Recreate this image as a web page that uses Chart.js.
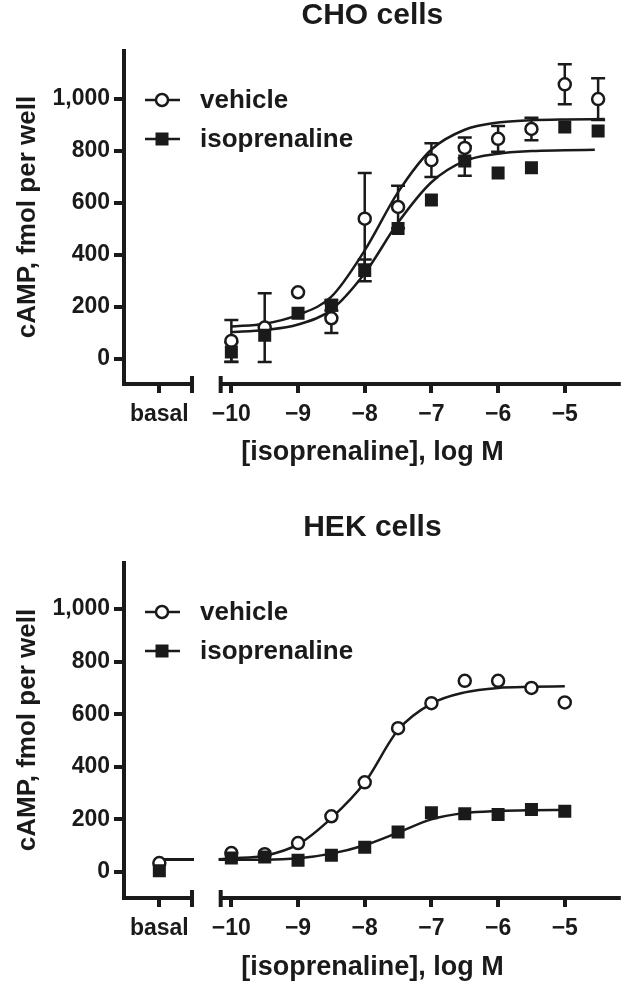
<!DOCTYPE html>
<html>
<head>
<meta charset="utf-8">
<script src="https://cdn.jsdelivr.net/npm/chart.js@4.4.0/dist/chart.umd.min.js"></script>
<style>
  html, body { margin: 0; padding: 0; background: #fff; overflow: hidden; }
  canvas { display: block; }
</style>
</head>
<body>
<canvas id="choChart" width="630" height="490"></canvas>
<canvas id="hekChart" width="630" height="500"></canvas>
<script>
// shared axis values
const basalPos = -11.08;
const axisBreak = [-10.56, -10.19];
const xTicks = [basalPos, -10, -9, -8, -7, -6, -5];
const yTicks = [0, 200, 400, 600, 800, 1000];
const logDose = [-10, -9.5, -9, -8.5, -8, -7.5, -7, -6.5, -6, -5.5, -5, -4.5];

// CHO cells
const choVehicle = [70, 121, 257, 157, 540, 585, 765, 812, 847, 885, 1057, 1000];
const choVehicleErr = [80, 132, 0, 57, 176, 82, 65, 40, 50, 43, 77, 80];
const choIso = [27, 92, 176, 207, 341, 502, 612, 762, 716, 736, 893, 877];
const choIsoErr = [38, 0, 0, 20, 42, 0, 0, 57, 0, 0, 0, 0];
const choVehicleFitX = [-10, -9.5, -9, -8.5, -8, -7.5, -7, -6.5, -6, -5.5, -5, -4.4];
const choVehicleFit = [125, 136, 170, 240, 418, 642, 806, 882, 910, 919, 922, 923];
const choIsoFitX = [-10, -9.5, -9, -8.5, -8, -7.5, -7, -6.5, -6, -5.5, -5, -4.55];
const choIsoFit = [104, 112, 133, 190, 330, 525, 680, 762, 790, 800, 803, 805];

// HEK cells
const hekDose = [basalPos, -10, -9.5, -9, -8.5, -8, -7.5, -7, -6.5, -6, -5.5, -5];
const hekVehicle = [34, 72, 68, 110, 212, 341, 547, 642, 727, 727, 700, 645];
const hekIso = [5, 53, 57, 45, 64, 94, 152, 225, 222, 219, 238, 231];
const hekFitX = [basalPos, -10.56, -10.4, -10.19, -10, -9.5, -9, -8.5, -8, -7.5, -7, -6.5, -6, -5.5, -5];
const hekVehicleFit = [49, 49, null, 49, 52, 62, 105, 205, 340, 540, 640, 683, 700, 704, 706];
const hekIsoFit = [47, 47, null, 47, 47, 47, 52, 70, 102, 150, 200, 224, 232, 235, 236];

const ink = '#1a1a1a';
Chart.defaults.font.family = '"Liberation Sans", Arial, Helvetica, sans-serif';
Chart.defaults.color = ink;

const pairs = (xs, ys) => xs.map((x, i) => ({ x: x, y: ys[i] }));
const fmtLog = v => v === basalPos ? 'basal' : String(v).replace('-', '\u2212');

// x axis drawn in two pieces with end caps at the break
const brokenAxis = {
  id: 'brokenAxis',
  afterDraw(chart) {
    const { ctx, chartArea, scales: { x } } = chart;
    const y = chartArea.bottom + 1;
    const b0 = x.getPixelForValue(axisBreak[0]);
    const b1 = x.getPixelForValue(axisBreak[1]);
    ctx.save();
    ctx.strokeStyle = ink;
    ctx.lineWidth = 4;
    ctx.beginPath();
    ctx.moveTo(chartArea.left - 2, y);
    ctx.lineTo(b0, y);
    ctx.moveTo(b1, y);
    ctx.lineTo(chartArea.right, y);
    ctx.moveTo(b0 - 2, y - 8);
    ctx.lineTo(b0 - 2, y + 9);
    ctx.moveTo(b1 + 2, y - 8);
    ctx.lineTo(b1 + 2, y + 9);
    ctx.stroke();
    ctx.restore();
  }
};

const errorBars = {
  id: 'errorBars',
  beforeDatasetsDraw(chart) {
    const { ctx, scales: { x, y } } = chart;
    ctx.save();
    ctx.strokeStyle = ink;
    ctx.lineWidth = 2.5;
    chart.data.datasets.forEach(ds => {
      if (!ds.errors) return;
      ds.data.forEach((p, i) => {
        const e = ds.errors[i];
        if (!e) return;
        const px = x.getPixelForValue(p.x);
        const top = y.getPixelForValue(p.y + e);
        const bot = y.getPixelForValue(p.y - e);
        ctx.beginPath();
        ctx.moveTo(px, top); ctx.lineTo(px, bot);
        ctx.moveTo(px - 7, top); ctx.lineTo(px + 7, top);
        ctx.moveTo(px - 7, bot); ctx.lineTo(px + 7, bot);
        ctx.stroke();
      });
    });
    ctx.restore();
  }
};

// legend sits inside the plot, top left
const insetLegend = {
  id: 'insetLegend',
  afterDatasetsDraw(chart, args, opts) {
    const { ctx, chartArea } = chart;
    const x0 = chartArea.left;
    chart.data.datasets.filter(d => d.legendRow !== undefined).forEach(ds => {
      const yy = chartArea.top + opts.rows[ds.legendRow];
      ctx.save();
      ctx.strokeStyle = ink;
      ctx.lineWidth = 2.5;
      ctx.beginPath();
      ctx.moveTo(x0 + 21, yy);
      ctx.lineTo(x0 + 56, yy);
      ctx.stroke();
      const mx = x0 + 38;
      if (ds.pointStyle === 'circle') {
        ctx.fillStyle = '#fff';
        ctx.beginPath();
        ctx.arc(mx, yy, 6, 0, Math.PI * 2);
        ctx.fill();
        ctx.stroke();
      } else {
        ctx.fillStyle = ink;
        ctx.fillRect(mx - 6.5, yy - 6.5, 13, 13);
      }
      ctx.fillStyle = ink;
      ctx.font = 'bold 26px "Liberation Sans", Arial, sans-serif';
      ctx.textBaseline = 'middle';
      ctx.fillText(ds.label, x0 + 76, yy + 1);
      ctx.restore();
    });
  }
};

function makePanel(id, cfg) {
  new Chart(document.getElementById(id), {
    type: 'scatter',
    data: {
      datasets: [
        {
          label: 'isoprenaline',
          data: pairs(cfg.dose, cfg.iso),
          errors: cfg.isoErr,
          legendRow: 1,
          pointStyle: 'rect',
          pointRadius: 9.2,
          pointBackgroundColor: ink,
          pointBorderWidth: 0,
          showLine: false,
          order: 1
        },
        {
          label: 'vehicle',
          data: pairs(cfg.dose, cfg.vehicle),
          errors: cfg.vehicleErr,
          legendRow: 0,
          pointStyle: 'circle',
          pointRadius: 6,
          pointBackgroundColor: '#fff',
          pointBorderColor: ink,
          pointBorderWidth: 2.5,
          showLine: false,
          order: 2
        },
        {
          label: 'vehicle fit',
          data: pairs(cfg.vehicleFitX, cfg.vehicleFit),
          showLine: true,
          pointRadius: 0,
          borderColor: ink,
          borderWidth: 2.5,
          cubicInterpolationMode: 'monotone',
          spanGaps: false,
          order: 3
        },
        {
          label: 'isoprenaline fit',
          data: pairs(cfg.isoFitX, cfg.isoFit),
          showLine: true,
          pointRadius: 0,
          borderColor: ink,
          borderWidth: 2.5,
          cubicInterpolationMode: 'monotone',
          spanGaps: false,
          order: 4
        }
      ]
    },
    options: {
      responsive: false,
      animation: false,
      layout: { padding: { left: 0, right: 2, top: 0, bottom: 0 } },
      plugins: {
        legend: { display: false },
        tooltip: { enabled: false },
        title: {
          display: true,
          fullSize: false,
          text: cfg.title,
          color: ink,
          font: { size: 30, weight: 'bold', lineHeight: 1 },
          padding: cfg.titlePad
        },
        insetLegend: { rows: [49, 88] }
      },
      scales: {
        x: {
          type: 'linear',
          min: -11.61,
          max: -4.16,
          afterBuildTicks: s => { s.ticks = xTicks.map(v => ({ value: v })); },
          afterFit: s => { s.height = cfg.xHeight; },
          ticks: {
            callback: v => fmtLog(v),
            color: ink,
            font: { size: 23, weight: 'bold' },
            padding: 8,
            maxRotation: 0,
            autoSkip: false
          },
          grid: { drawOnChartArea: false, tickLength: 10, lineWidth: 4, color: ink },
          border: { display: false },
          title: {
            display: true,
            text: '[isoprenaline], log M',
            color: ink,
            font: { size: 27, weight: 'bold' },
            padding: { top: 0, bottom: cfg.xTitlePad }
          }
        },
        y: {
          min: cfg.yMin,
          max: cfg.yMax,
          afterBuildTicks: s => { s.ticks = yTicks.map(v => ({ value: v })); },
          afterFit: s => { s.width = 124; },
          ticks: {
            callback: v => v.toLocaleString('en-US'),
            color: ink,
            font: { size: 23, weight: 'bold' },
            padding: 4
          },
          grid: { drawOnChartArea: false, tickLength: 10, lineWidth: 4, color: ink },
          border: { display: true, width: 4, color: ink },
          title: {
            display: true,
            text: 'cAMP, fmol per well',
            color: ink,
            font: { size: 26, weight: 'bold' },
            padding: { top: 12, bottom: 0 }
          }
        }
      }
    },
    plugins: [errorBars, insetLegend, brokenAxis]
  });
}

makePanel('choChart', {
  title: 'CHO cells',
  titlePad: { top: 0.5, bottom: 20.5 },
  xHeight: 107,
  xTitlePad: 21,
  yMin: -92, yMax: 1185,
  dose: logDose,
  vehicle: choVehicle, vehicleErr: choVehicleErr,
  iso: choIso, isoErr: choIsoErr,
  vehicleFitX: choVehicleFitX, vehicleFit: choVehicleFit,
  isoFitX: choIsoFitX, isoFit: choIsoFit
});

makePanel('hekChart', {
  title: 'HEK cells',
  titlePad: { top: 22.5, bottom: 20.5 },
  xHeight: 93,
  xTitlePad: 6,
  yMin: -95, yMax: 1175,
  dose: hekDose,
  vehicle: hekVehicle, vehicleErr: null,
  iso: hekIso, isoErr: null,
  vehicleFitX: hekFitX, vehicleFit: hekVehicleFit,
  isoFitX: hekFitX, isoFit: hekIsoFit
});
</script>
</body>
</html>
